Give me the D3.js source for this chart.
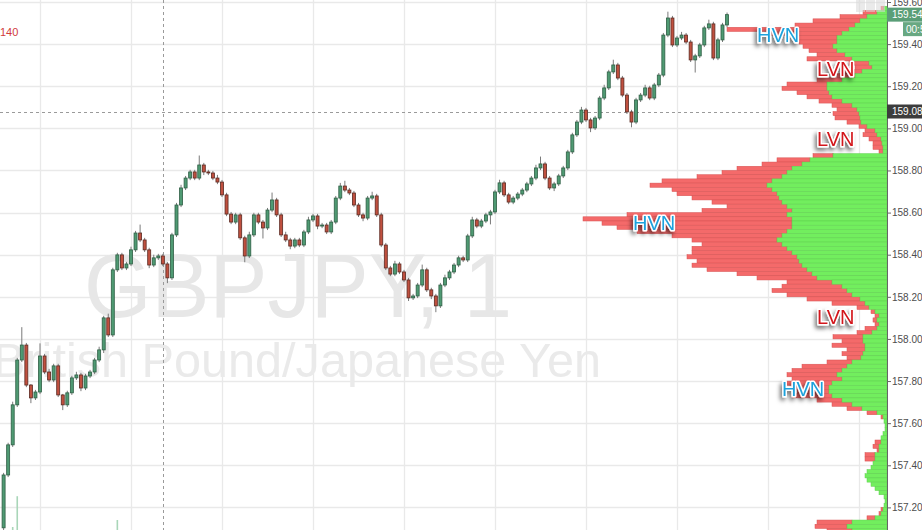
<!DOCTYPE html>
<html>
<head>
<meta charset="utf-8">
<script src="https://cdn.jsdelivr.net/npm/d3@7"></script>
<style>
html, body { margin: 0; padding: 0; background: #fff; overflow: hidden; }
svg { display: block; font-family: "Liberation Sans", Arial, sans-serif; }
</style>
</head>
<body>
<div id="chart"></div>
<script>
// GBPJPY 1 minute bars, close prices
var firstOpen = 157.103;
var closes = [
  157.354, 157.497, 157.687, 157.900, 157.971, 157.781, 157.720, 157.748, 157.919, 157.843,
  157.805, 157.872, 157.734, 157.687, 157.744, 157.815, 157.829, 157.767, 157.824, 157.843,
  157.900, 157.948, 158.100, 158.019, 158.328, 158.399, 158.337, 158.356, 158.423, 158.503,
  158.470, 158.423, 158.351, 158.385, 158.394, 158.356, 158.290, 158.494, 158.636, 158.717,
  158.764, 158.793, 158.764, 158.826, 158.793, 158.788, 158.764, 158.745, 158.684, 158.593,
  158.555, 158.589, 158.480, 158.394, 158.494, 158.589, 158.555, 158.527, 158.612, 158.660,
  158.589, 158.494, 158.470, 158.441, 158.470, 158.446, 158.508, 158.565, 158.584, 158.536,
  158.541, 158.508, 158.555, 158.669, 158.726, 158.707, 158.693, 158.636, 158.589, 158.574,
  158.669, 158.679, 158.589, 158.446, 158.337, 158.308, 158.356, 158.318, 158.280, 158.195,
  158.204, 158.256, 158.328, 158.233, 158.204, 158.157, 158.256, 158.290, 158.318, 158.351,
  158.385, 158.375, 158.489, 158.565, 158.536, 158.560, 158.589, 158.603, 158.698, 158.741,
  158.684, 158.650, 158.669, 158.688, 158.707, 158.736, 158.764, 158.812, 158.831, 158.764,
  158.717, 158.736, 158.774, 158.812, 158.888, 158.969, 159.030, 159.087, 159.040, 159.002,
  159.049, 159.144, 159.192, 159.268, 159.301, 159.239, 159.158, 159.078, 159.030, 159.135,
  159.158, 159.192, 159.144, 159.206, 159.253, 159.443, 159.524, 159.396, 159.429, 159.443,
  159.410, 159.325, 159.344, 159.396, 159.477, 159.496, 159.334, 159.420, 159.491, 159.540
];
// wick lengths beyond the body, in pips (0.01)
var wickUp = [
  1, 1, 1.5, 1, 8.5, 1, 0.5, 1, 6, 1,   1.5, 1, 1, 0.5, 1, 1, 1.5, 1, 1, 1,
  1, 1.5, 1, 2, 1, 1, 1, 1, 1.5, 1,     4, 1, 1, 1.5, 1, 1, 1, 1, 1, 1.5,
  1, 1, 1, 4.5, 1, 1, 1, 1.5, 1, 1,     1, 1, 1, 1, 1.5, 1, 1, 1, 1, 3.5,
  1, 1, 1.5, 1, 1, 1, 1, 1.5, 1, 1,     1, 1, 1, 1, 1.5, 2.5, 1, 1, 1, 1,
  1, 2, 1, 1, 1, 1, 1.5, 1, 1, 1,       1, 1, 2.5, 1, 1, 1, 1, 1.5, 1, 1,
  1, 1, 1, 1.5, 1, 1, 1, 1, 1, 1.5,     1, 1, 1, 1, 1, 1, 1, 1.5, 3.5, 1,
  1, 1, 1, 1, 1, 1, 1, 1.5, 1, 1,       1, 1, 1.5, 1, 2.5, 1, 1, 1, 1, 1,
  1, 1.5, 1, 1, 1, 1, 3, 1, 1, 1.5,     1, 1, 1, 1, 1, 2, 1, 1, 1, 1
];
var wickDn = [
  4, 1, 1, 1, 1, 1, 2.5, 1, 1, 1,       1, 1, 1, 2.5, 1, 1, 1, 1.5, 1, 1,
  1, 1, 1.5, 1, 1, 1, 1, 1, 1, 1,       1, 1, 1.5, 1, 1, 1, 2.5, 1, 1, 1,
  1, 1, 1, 1, 1.5, 1, 1, 1, 1, 1,       1, 1, 1, 3, 1, 1, 1, 5, 1, 1,
  1, 1, 1, 1.5, 1, 1, 1, 1, 1, 1.5,     1, 1, 1, 1, 1, 1, 1, 1, 1, 1.5,
  1, 1, 1, 1, 1, 1, 1, 1, 1, 1.5,       1, 1, 1, 1, 1.5, 3, 1, 1, 1, 1,
  1, 1, 1, 1, 1, 1, 1, 4.5, 1, 1,       1, 1, 1, 1, 1, 1, 1, 1, 1, 1,
  1, 1.5, 1, 1, 1, 1, 1, 1, 1, 2,       1, 1, 1, 1, 1, 1, 1, 1, 2.5, 1,
  1, 1, 1, 1, 1, 1, 1, 1, 1, 1,         1, 1, 6, 1, 1, 1, 1, 1, 1, 1
];
// a few volume bars that peek in at the bottom
var volBars = [2, 3, 25];
var volVals = [30, 74, 40];

// volume profile, rows of 0.02 from 159.56 down to 157.08
var vpTop = 159.56;
var vpStep = 0.02;
var vpBuy = [
  3, 10, 20, 27, 32, 38, 45, 50, 50, 54,
  50, 42, 35, 18, 15, 25, 32, 45, 60, 60,
  58, 55, 45, 35, 30, 28, 27, 26, 20, 12,
  10, 6, 5, 4, 4, 54, 77, 85, 95, 100,
  105, 115, 120, 115, 110, 108, 105, 100, 95, 100,
  95, 95, 95, 100, 105, 110, 105, 100, 95, 90,
  88, 85, 80, 75, 70, 55, 45, 40, 35, 27,
  22, 18, 12, 8, 10, 8, 10, 15, 24, 24,
  22, 22, 24, 26, 35, 40, 45, 50, 45, 55,
  58, 58, 55, 45, 35, 25, 10, 4, 3, 2,
  2, 4, 6, 6, 8, 8, 12, 12, 14, 16,
  20, 22, 20, 16, 12, 8, 3, 2, 3, 4,
  6, 12, 35, 40, 35
];
var vpSell = [
  3, 14, 27, 47, 60, 122, 75, 42, 38, 30,
  28, 28, 45, 20, 17, 20, 18, 25, 40, 45,
  32, 25, 23, 20, 20, 26, 25, 14, 8, 10,
  14, 12, 9, 10, 4, 20, 33, 40, 55, 65,
  85, 110, 117, 100, 100, 87, 70, 60, 90, 160,
  209, 190, 175, 150, 110, 85, 80, 95, 100, 110,
  102, 110, 100, 75, 60, 45, 60, 75, 65, 53,
  33, 12, 4, 4, 4, 4, 12, 15, 30, 21,
  33, 18, 21, 14, 25, 45, 50, 50, 50, 45,
  37, 32, 40, 25, 20, 15, 10, 2, 0, 0,
  0, 0, 0, 6, 6, 2, 10, 10, 0, 0,
  0, 0, 0, 0, 0, 0, 0, 0, 0, 2,
  2, 8, 35, 32, 25
];

var priceTicks = [157.20, 157.40, 157.60, 157.80, 158.00, 158.20, 158.40, 158.60, 158.80, 159.00, 159.20, 159.40, 159.60];
var nodeNames = ["HVN", "LVN", "LVN", "HVN", "LVN", "HVN"];
var nodePrices = [159.446, 159.282, 158.950, 158.550, 158.104, 157.762];
var lastPrice = 159.54;
var crossPrice = 159.08;
var crossBar = 35;
var symbol = "GBPJPY, 1";
var symbolName = "British Pound/Japanese Yen";

var width = 922, height = 530, plotRight = 887;

var svg = d3.select("#chart").append("svg")
  .attr("width", width)
  .attr("height", height);

var defs = svg.append("defs");
defs.append("clipPath").attr("id", "plotClip")
  .append("rect").attr("x", 0).attr("y", 0).attr("width", plotRight).attr("height", height);
defs.append("filter").attr("id", "shadow")
  .attr("x", "-30%").attr("y", "-30%").attr("width", "160%").attr("height", "180%")
  .append("feDropShadow")
  .attr("dx", -2).attr("dy", 3).attr("stdDeviation", 2)
  .attr("flood-color", "#000").attr("flood-opacity", 0.55);

var start = new Date(2017, 5, 1, 10, 12);
var times = closes.map(function(d, i){ return d3.timeMinute.offset(start, i); });

var x = d3.scaleTime()
  .domain([times[0], times[times.length - 1]])
  .range([3.6, 3.6 + 4.55 * (closes.length - 1)]);

var y = d3.scaleLinear()
  .domain([159.60, 157.20])
  .range([2, 507.4]);

var plot = svg.append("g").attr("clip-path", "url(#plotClip)");

// grid
var timeTicks = d3.timeMinute.every(20).range(times[0], d3.timeMinute.offset(start, 200));
plot.append("g").selectAll("line")
  .data(priceTicks).enter().append("line")
  .attr("x1", 0).attr("x2", plotRight)
  .attr("y1", function(d){ return Math.round(y(d)) + 0.5; })
  .attr("y2", function(d){ return Math.round(y(d)) + 0.5; })
  .attr("stroke", "#e9e9e9").attr("stroke-width", 1.3);
plot.append("g").selectAll("line")
  .data(timeTicks).enter().append("line")
  .attr("x1", function(d){ return Math.round(x(d)) + 0.5; })
  .attr("x2", function(d){ return Math.round(x(d)) + 0.5; })
  .attr("y1", 0).attr("y2", height)
  .attr("stroke", "#e9e9e9").attr("stroke-width", 1.3);

// watermark
plot.append("text")
  .attr("x", 84).attr("y", 317)
  .attr("textLength", 428).attr("lengthAdjust", "spacingAndGlyphs")
  .style("font-size", "91px").style("fill", "#e7e7e7")
  .text(symbol);
plot.append("text")
  .attr("x", -7).attr("y", 377)
  .attr("textLength", 608).attr("lengthAdjust", "spacingAndGlyphs")
  .style("font-size", "48px").style("fill", "#eaeaea")
  .text(symbolName);

// crosshair
plot.append("line")
  .attr("x1", Math.round(x(times[crossBar])) + 0.5).attr("x2", Math.round(x(times[crossBar])) + 0.5)
  .attr("y1", 0).attr("y2", height)
  .attr("stroke", "#9a9a9a").attr("stroke-dasharray", "3,3");
plot.append("line")
  .attr("x1", 0).attr("x2", plotRight)
  .attr("y1", Math.round(y(crossPrice)) + 0.5).attr("y2", Math.round(y(crossPrice)) + 0.5)
  .attr("stroke", "#9a9a9a").attr("stroke-dasharray", "3,3");

// volume bars at the bottom
var v = d3.scaleLinear().domain([0, 100]).range([548, 478]);
plot.append("g").selectAll("rect")
  .data(volBars).enter().append("rect")
  .attr("x", function(d){ return x(times[d]) - 0.8; })
  .attr("width", 1.6)
  .attr("y", function(d, i){ return v(volVals[i]); })
  .attr("height", function(d, i){ return v(0) - v(volVals[i]); })
  .attr("fill", "#a9d6b8");

// volume profile
var totals = vpBuy.map(function(d, i){ return d + vpSell[i]; });
var vol = d3.scaleLinear().domain([0, d3.max(totals)]).range([0, d3.max(totals)]);
var rows = vpBuy.map(function(d, i){
  var p = vpTop - i * vpStep;
  return { p: p, buy: d, sell: vpSell[i] };
});
var vp = plot.append("g");
vp.selectAll(".sell").data(rows).enter().append("rect")
  .attr("class", "sell")
  .attr("x", function(d){ return plotRight - vol(d.buy + d.sell); })
  .attr("width", function(d){ return vol(d.sell); })
  .attr("y", function(d){ return y(d.p + vpStep); })
  .attr("height", function(d){ return y(d.p) - y(d.p + vpStep); })
  .attr("fill", "#f46a6a").attr("stroke", "#d65252").attr("stroke-width", 0.5);
vp.selectAll(".buy").data(rows).enter().append("rect")
  .attr("class", "buy")
  .attr("x", function(d){ return plotRight - vol(d.buy); })
  .attr("width", function(d){ return vol(d.buy); })
  .attr("y", function(d){ return y(d.p + vpStep); })
  .attr("height", function(d){ return y(d.p) - y(d.p + vpStep); })
  .attr("fill", "#72ee5e").attr("stroke", "#5fcf4f").attr("stroke-width", 0.5);

// candles
var bars = closes.map(function(c, i){
  var o = i === 0 ? firstOpen : closes[i - 1];
  return {
    t: times[i], o: o, c: c,
    h: Math.max(o, c) + wickUp[i] * 0.01,
    l: Math.min(o, c) - wickDn[i] * 0.01
  };
});
var candles = plot.append("g").selectAll("g").data(bars).enter().append("g");
candles.append("line")
  .attr("x1", function(d){ return x(d.t); }).attr("x2", function(d){ return x(d.t); })
  .attr("y1", function(d){ return y(d.h); }).attr("y2", function(d){ return y(d.l); })
  .attr("stroke", "#7a7a7a").attr("stroke-width", 1);
candles.append("rect")
  .attr("x", function(d){ return x(d.t) - 1.5; })
  .attr("width", 3)
  .attr("y", function(d){ return y(Math.max(d.o, d.c)); })
  .attr("height", function(d){ return Math.max(1, Math.abs(y(d.o) - y(d.c))); })
  .attr("fill", function(d){ return d.c >= d.o ? "#4f9a73" : "#c0503f"; })
  .attr("stroke", function(d){ return d.c >= d.o ? "#2e5e44" : "#5a2a22"; })
  .attr("stroke-width", 0.8);

// HVN / LVN labels
var labelX = [757, 817, 817, 633, 817, 782];
plot.append("g").selectAll("text")
  .data(nodeNames).enter().append("text")
  .attr("x", function(d, i){ return labelX[i]; })
  .attr("y", function(d, i){ return y(nodePrices[i]); })
  .attr("dy", "0.36em")
  .attr("filter", "url(#shadow)")
  .style("font-size", "20px")
  .style("fill", function(d){ return d === "HVN" ? "#1fa2dc" : "#d3141a"; })
  .style("stroke", "#fff").style("stroke-width", 3).style("paint-order", "stroke")
  .style("stroke-linejoin", "round")
  .text(function(d){ return d; });

// toolbar ghost buttons
svg.append("g").selectAll("rect")
  .data([0, 1, 2]).enter().append("rect")
  .attr("x", function(d){ return 856 + d * 10; }).attr("y", 0)
  .attr("width", 9).attr("height", 12)
  .attr("fill", "#d9d9d9").attr("opacity", 0.55);

svg.append("text")
  .attr("x", 0).attr("y", 36)
  .style("font-size", "11px").style("fill", "#d13b3b")
  .text("140");

// price axis
var axis = svg.append("g")
  .attr("transform", "translate(" + plotRight + ",0)")
  .call(d3.axisRight(y).tickValues(priceTicks).tickFormat(d3.format(".2f")).tickSize(4).tickPadding(1));
axis.select(".domain").attr("stroke", "#666").attr("d", "M0.5,0V" + height);
axis.selectAll(".tick line").attr("stroke", "#666");
axis.selectAll(".tick text").style("font-size", "10px").style("fill", "#4d4d4d")
  .style("font-family", "'Liberation Sans', Arial, sans-serif");

function axisBox(price, fill, label, yOff, xOff, txOff){
  var yy = y(price) + yOff;
  svg.append("rect")
    .attr("x", plotRight + xOff).attr("y", yy - 7)
    .attr("width", width - plotRight - xOff).attr("height", 14)
    .attr("fill", fill);
  svg.append("text")
    .attr("x", plotRight + xOff + txOff).attr("y", yy).attr("dy", "0.35em")
    .style("font-size", "10px").style("fill", "#fff")
    .text(label);
}
axisBox(lastPrice, "#5a9e77", d3.format(".2f")(lastPrice), 0, 0, 5);
axisBox(lastPrice, "#68a882", "00:53", 14.5, 16, 3);
axisBox(crossPrice, "#3d3d3d", d3.format(".2f")(crossPrice), 0, 0, 5);
</script>
</body>
</html>
